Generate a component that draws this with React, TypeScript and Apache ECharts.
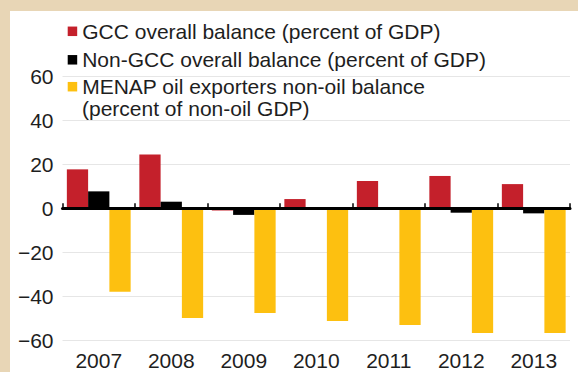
import React, { useEffect, useRef } from "react";
import * as echarts from "echarts";

const years = ["2007", "2008", "2009", "2010", "2011", "2012", "2013"];
const gccOverall = [17.7, 24.5, -1.0, 4.2, 12.4, 14.7, 11.0];
const nonGccOverall = [7.7, 3.0, -3.0, -0.3, 0.2, -2.0, -2.3];
const menapNonOil = [-37.9, -49.9, -47.6, -51.2, -53.0, -56.7, -56.7];
const seriesNames = [
  "GCC overall balance (percent of GDP)",
  "Non-GCC overall balance (percent of GDP)",
  "MENAP oil exporters non-oil balance",
];
const menapSecondLine = "(percent of non-oil GDP)";
const yTicks = { min: -60, max: 60, interval: 20 };

const FONT = "'Liberation Sans', Arial, Helvetica, sans-serif";
const TEXT = "#1e1e1e";
const colors = ["#c4202b", "#000000", "#fdc010"];

export default function App() {
  const ref = useRef<HTMLDivElement>(null);
  useEffect(() => {
    if (!ref.current) return;
    const chart = echarts.init(ref.current, null, { renderer: "svg" });
    const legendTops = [9.3, 37.8, 64.7];
    chart.setOption({
      animation: false,
      backgroundColor: "#ffffff",
      grid: { left: 52.5, right: 8, top: 65.3, bottom: 31.7, containLabel: false },
      legend: seriesNames.map((n, i) => ({
        data: [n],
        orient: "vertical",
        left: 57.7,
        top: legendTops[i],
        padding: 0,
        icon: "rect",
        itemWidth: 9.5,
        itemHeight: 9.5,
        selectedMode: false,
        textStyle: { fontFamily: FONT, fontSize: 21, color: TEXT, lineHeight: 22 },
      })),
      graphic: [
        {
          type: "text",
          left: 72,
          top: 86.5,
          style: { text: menapSecondLine, font: `21px ${FONT}`, fill: TEXT },
        },
      ],
      xAxis: [
        {
          type: "category",
          data: years,
          position: "bottom",
          axisLine: { show: false, onZero: false },
          axisTick: { show: false },
          axisLabel: { fontFamily: FONT, fontSize: 21, color: TEXT, margin: 10 },
          splitLine: { show: false },
        },
        {
          type: "category",
          data: years,
          position: "bottom",
          z: 10,
          axisLine: { show: true, onZero: true, lineStyle: { color: "#000", width: 3 } },
          axisTick: { show: true, inside: true, length: 5, lineStyle: { color: "#000", width: 1.5 } },
          axisLabel: { show: false },
          splitLine: { show: false },
        },
      ],
      yAxis: {
        type: "value",
        min: yTicks.min,
        max: yTicks.max,
        interval: yTicks.interval,
        axisLine: { show: false },
        axisTick: { show: false },
        axisLabel: {
          fontFamily: FONT,
          fontSize: 21,
          color: TEXT,
          margin: 9,
          formatter: (v: number) => String(v).replace("-", "\u2212"),
        },
        splitLine: { show: true, lineStyle: { color: "#e6e6e6", width: 1 } },
      },
      series: [
        { name: seriesNames[0], type: "bar", data: gccOverall, itemStyle: { color: colors[0] }, barGap: "0%", barCategoryGap: "12%" },
        { name: seriesNames[1], type: "bar", data: nonGccOverall, itemStyle: { color: colors[1] }, barGap: "0%", barCategoryGap: "12%" },
        { name: seriesNames[2], type: "bar", data: menapNonOil, itemStyle: { color: colors[2] }, barGap: "0%", barCategoryGap: "12%" },
      ],
    });
    return () => chart.dispose();
  }, []);
  return (
    <div style={{ position: "fixed", left: 0, top: 0, width: 578, height: 372, background: "#e8d6b6" }}>
      <div ref={ref} style={{ position: "absolute", left: 10, top: 11, width: 568, height: 361 }} />
    </div>
  );
}
